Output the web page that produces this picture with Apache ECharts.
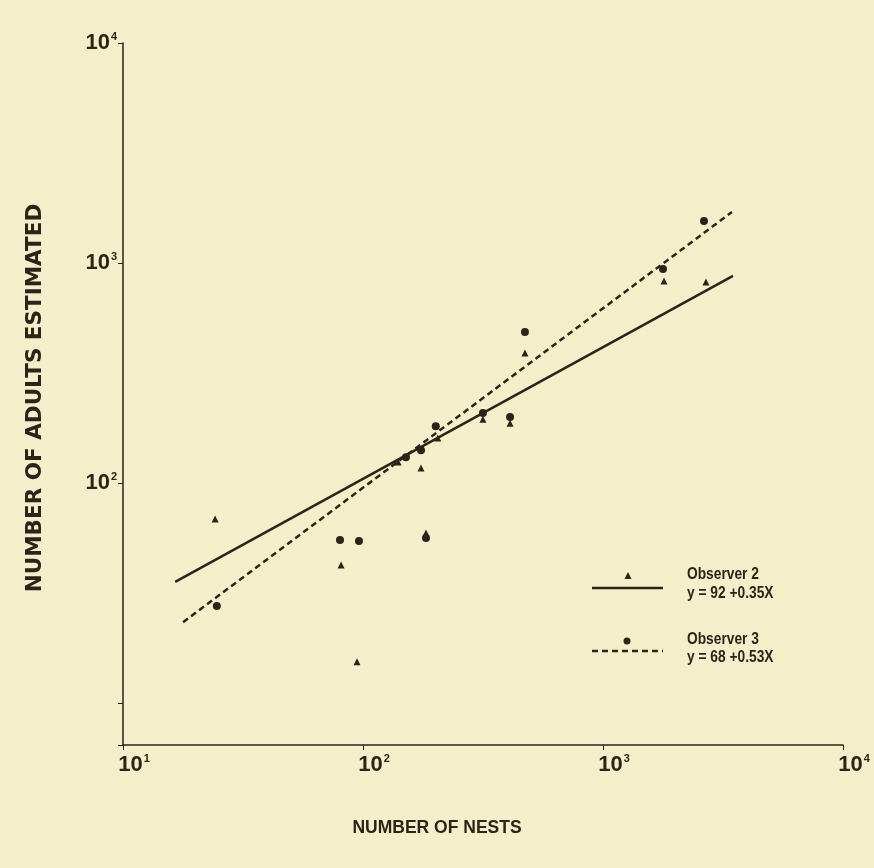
<!DOCTYPE html>
<html lang="en">
<head>
    <meta charset="UTF-8">
    <title>Adults estimated vs nests</title>
    <script src="https://cdn.jsdelivr.net/npm/echarts@6/dist/echarts.min.js"></script>
    <style>
        html, body { margin: 0; padding: 0; background: #f4efca; }
        #container { width: 874px; height: 868px; }
    </style>
</head>
<body>
    <div id="container"></div>
    <script>
        // observer 2 (triangles)
        var obs2X = [24.2, 81, 94.4, 140, 174.5, 183, 205, 316, 410, 473, 1795, 2685];
        var obs2Y = [68.6, 42.4, 15.4, 124.5, 117, 59.3, 160, 195, 187, 390, 828, 820];
        // observer 3 (dots)
        var obs3X = [24.6, 80.2, 96.2, 151, 174.5, 183, 201, 316, 410, 473, 1778, 2635];
        var obs3Y = [27.6, 55.1, 54.5, 131, 141, 56.2, 181, 208, 199.5, 485, 939, 1553];
        // fitted lines, end points
        var fit2X = [16.5, 3480];
        var fit2Y = [35.5, 873];
        var fit3X = [17.8, 3448];
        var fit3Y = [23.3, 1706];

        var ink = '#2a2419';

        function pairs(xs, ys) {
            return xs.map(function (x, i) { return [x, ys[i]]; });
        }

        function powLabel(v, skip) {
            var e = Math.log10(v);
            var r = Math.round(e);
            if (Math.abs(e - r) > 0.01 || r === skip) return '';
            return '{b|10}{s|' + r + '}';
        }

        var labelRich = {
            b: { fontSize: 22, fontWeight: 'bold', fontFamily: 'Liberation Sans', color: ink },
            s: { fontSize: 11, fontWeight: 'bold', fontFamily: 'Liberation Sans', color: ink, padding: [0, 0, 13, 1] }
        };

        // legend text, condensed look
        function legendText(txt, x, y) {
            return {
                type: 'text', x: x, y: y, scaleX: 0.86,
                style: { text: txt, font: 'bold 16px "Liberation Sans"', fill: ink, textVerticalAlign: 'middle' }
            };
        }

        var myChart = echarts.init(document.getElementById('container'));
        var option = {
            backgroundColor: '#f4efca',
            animation: false,
            grid: { left: 123, right: 31, top: 43, bottom: 123 },
            xAxis: {
                type: 'log',
                logBase: 10,
                min: 10,
                max: 10000,
                name: 'NUMBER OF NESTS',
                nameLocation: 'middle',
                nameGap: 74,
                nameTextStyle: { fontSize: 17.5, fontWeight: 'bold', fontFamily: 'Liberation Sans', color: ink, padding: [0, 92, 0, 0] },
                axisLine: { lineStyle: { color: ink, width: 1.5 } },
                axisTick: { inside: false, length: 5, lineStyle: { color: ink } },
                splitLine: { show: false },
                axisLabel: {
                    margin: 8,
                    padding: [0, 0, 0, 22],
                    formatter: function (v) { return powLabel(v, null); },
                    rich: labelRich
                }
            },
            yAxis: {
                type: 'log',
                logBase: 10,
                min: 6.44,
                max: 10000,
                name: 'NUMBER OF ADULTS ESTIMATED',
                nameLocation: 'middle',
                nameGap: 77,
                nameTextStyle: { fontSize: 21.5, fontWeight: 'bold', fontFamily: 'DejaVu Sans', color: ink, padding: [0, 8, 0, 0] },
                axisLine: { lineStyle: { color: ink, width: 1.5 } },
                axisTick: { inside: false, length: 5, lineStyle: { color: ink } },
                splitLine: { show: false },
                axisLabel: {
                    margin: 6,
                    formatter: function (v) { return powLabel(v, 1); },
                    rich: labelRich
                }
            },
            series: [{
                name: 'Observer 2 fit',
                type: 'line',
                data: pairs(fit2X, fit2Y),
                symbol: 'none',
                lineStyle: { color: ink, width: 2.5 }
            }, {
                name: 'Observer 3 fit',
                type: 'line',
                data: pairs(fit3X, fit3Y),
                symbol: 'none',
                lineStyle: { color: ink, width: 2.5, type: [6, 4] }
            }, {
                name: 'Observer 2',
                type: 'scatter',
                data: pairs(obs2X, obs2Y),
                symbol: 'triangle',
                symbolSize: 7,
                itemStyle: { color: ink, opacity: 1 }
            }, {
                name: 'Observer 3',
                type: 'scatter',
                data: pairs(obs3X, obs3Y),
                symbol: 'circle',
                symbolSize: 8,
                itemStyle: { color: ink, opacity: 1 }
            }],
            graphic: [
                // legend: observer 2
                { type: 'polygon', shape: { points: [[628, 572], [624.5, 579], [631.5, 579]] }, style: { fill: ink } },
                { type: 'line', shape: { x1: 592, y1: 588, x2: 663, y2: 588 }, style: { stroke: ink, lineWidth: 2.5 } },
                legendText('Observer 2', 687, 575),
                legendText('y = 92 +0.35X', 687, 594),
                // legend: observer 3
                { type: 'circle', shape: { cx: 627, cy: 641, r: 3.5 }, style: { fill: ink } },
                { type: 'line', shape: { x1: 592, y1: 651, x2: 663, y2: 651 }, style: { stroke: ink, lineWidth: 2.5, lineDash: [6, 4] } },
                legendText('Observer 3', 687, 640),
                legendText('y = 68 +0.53X', 687, 658)
            ]
        };
        myChart.setOption(option);
    </script>
</body>
</html>
